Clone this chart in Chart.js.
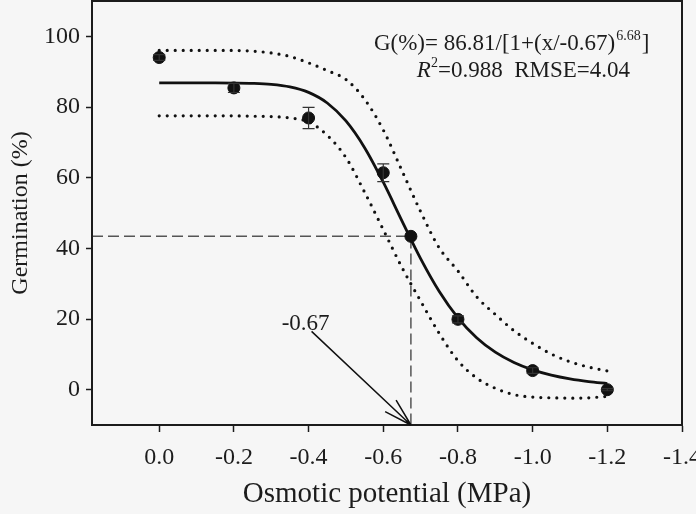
<!DOCTYPE html>
<html>
<head>
<meta charset="utf-8">
<script src="https://cdn.jsdelivr.net/npm/chart.js@4.4.0/dist/chart.umd.min.js"></script>
<style>
  html, body { margin: 0; padding: 0; background: #f6f6f6; }
  #wrap { width: 696px; height: 514px; }
</style>
</head>
<body>
<div id="wrap"><canvas id="myChart" width="696" height="514"></canvas></div>
<script>
// measured germination at each osmotic potential (MPa)
const osmotic = [0.0, -0.2, -0.4, -0.6, -0.8, -1.0, -1.2];
const germination = [94.0, 85.4, 76.9, 61.4, 19.9, 5.4, 0.0];
const germErr = [0.8, 1.3, 3.0, 2.5, 1.0, 0.8, 0.3];

// fitted curve and dotted confidence bands
const curveX = [0, -0.05, -0.1, -0.15, -0.2, -0.25, -0.3, -0.35, -0.4, -0.45, -0.5, -0.55, -0.6,
  -0.65, -0.7, -0.75, -0.8, -0.85, -0.9, -0.95, -1.0, -1.05, -1.1, -1.15, -1.2];
const curveFit = [86.81, 86.81, 86.81, 86.81, 86.78, 86.69, 86.41, 85.69, 84.13, 81.13, 76.05, 68.49, 58.71,
  47.80, 37.10, 27.79, 20.34, 14.70, 10.61, 7.68, 5.59, 4.11, 3.05, 2.29, 1.73];
const bandUpper = [96.0, 96.0, 96.0, 96.0, 96.0, 95.8, 95.3, 94.3, 92.5, 90.3, 87.8, 82.2, 73.5,
  62.0, 50.4, 40.1, 33.6, 26.3, 21.3, 16.7, 13.1, 10.1, 7.9, 6.4, 5.3];
const bandLower = [77.5, 77.5, 77.5, 77.5, 77.5, 77.4, 77.3, 76.9, 75.8, 72.0, 65.7, 55.9, 45.3,
  34.6, 25.1, 15.9, 8.2, 3.3, 0.4, -1.4, -2.1, -2.3, -2.4, -2.3, -1.9];

// half-maximum point
const x50 = -0.674;
const g50 = 43.4;

const xTicks = [0, -0.2, -0.4, -0.6, -0.8, -1.0, -1.2, -1.4];
const yTicks = [0, 20, 40, 60, 80, 100];
const xMin = -1.4, xMax = 0.18, yMin = -10, yMax = 110;

const serif = 'Liberation Serif';
const ink = '#1c1c1c';

const toXY = (xs, ys) => xs.map((x, i) => ({ x: x, y: ys[i] }));

// no extra room for end labels, the frame is placed by hand
const noPad = (s) => { s.paddingTop = 0; s.paddingBottom = 0; s.paddingLeft = 0; s.paddingRight = 0; };

const bgPlugin = {
  id: 'bg',
  beforeDraw(chart) {
    const c = chart.ctx;
    c.save();
    c.fillStyle = '#f6f6f6';
    c.fillRect(0, 0, chart.width, chart.height);
    c.restore();
  }
};

const extrasPlugin = {
  id: 'extras',
  afterDatasetsDraw(chart) {
    const c = chart.ctx;
    const xs = chart.scales.x, ys = chart.scales.y;
    const a = chart.chartArea;

    // error bars
    c.save();
    c.strokeStyle = '#333';
    c.lineWidth = 1.2;
    osmotic.forEach((v, i) => {
      const px = xs.getPixelForValue(v);
      const t = ys.getPixelForValue(germination[i] + germErr[i]);
      const b = ys.getPixelForValue(germination[i] - germErr[i]);
      c.beginPath();
      c.moveTo(px, t); c.lineTo(px, b);
      c.moveTo(px - 6, t); c.lineTo(px + 6, t);
      c.moveTo(px - 6, b); c.lineTo(px + 6, b);
      c.stroke();
    });
    c.restore();

    // frame
    c.save();
    c.strokeStyle = ink;
    c.lineWidth = 2;
    c.strokeRect(a.left, a.top, a.right - a.left, a.bottom - a.top);
    c.restore();

    // arrow pointing at x50
    c.save();
    const sx = xs.getPixelForValue(-0.408), sy = ys.getPixelForValue(16.5);
    const tx = xs.getPixelForValue(x50), ty = ys.getPixelForValue(yMin);
    const ang = Math.atan2(sy - ty, sx - tx);
    const len = 29, spread = 16 * Math.PI / 180;
    c.strokeStyle = '#111';
    c.lineWidth = 1.5;
    c.beginPath();
    c.moveTo(sx, sy); c.lineTo(tx, ty);
    c.moveTo(tx, ty); c.lineTo(tx + len * Math.cos(ang + spread), ty + len * Math.sin(ang + spread));
    c.moveTo(tx, ty); c.lineTo(tx + len * Math.cos(ang - spread), ty + len * Math.sin(ang - spread));
    c.stroke();
    c.fillStyle = ink;
    c.font = '23px "' + serif + '"';
    c.textBaseline = 'alphabetic';
    c.fillText('-0.67', xs.getPixelForValue(-0.328), ys.getPixelForValue(16.9));
    c.restore();

    // equation
    c.save();
    c.fillStyle = ink;
    c.textBaseline = 'alphabetic';
    let x = xs.getPixelForValue(-0.575);
    let y = ys.getPixelForValue(96.0);
    c.font = '23px "' + serif + '"';
    const p1 = 'G(%)= 86.81/[1+(x/-0.67)';
    c.fillText(p1, x, y);
    x += c.measureText(p1).width;
    c.font = '14px "' + serif + '"';
    c.fillText('6.68', x + 1, y - 10);
    x += c.measureText('6.68').width + 2;
    c.font = '23px "' + serif + '"';
    c.fillText(']', x, y);

    x = xs.getPixelForValue(-0.69);
    y = ys.getPixelForValue(88.4);
    c.font = 'italic 23px "' + serif + '"';
    c.fillText('R', x, y);
    x += c.measureText('R').width;
    c.font = '14px "' + serif + '"';
    c.fillText('2', x, y - 10);
    x += c.measureText('2').width;
    c.font = '23px "' + serif + '"';
    c.fillText('=0.988  RMSE=4.04', x, y);
    c.restore();
  }
};

const ctx = document.getElementById('myChart').getContext('2d');

new Chart(ctx, {
  type: 'scatter',
  data: {
    datasets: [
      {
        label: 'Germination',
        data: toXY(osmotic, germination),
        backgroundColor: '#111',
        borderColor: '#111',
        pointRadius: 6,
        order: 0
      },
      {
        label: 'x50',
        data: [{ x: x50, y: g50 }],
        backgroundColor: '#111',
        borderColor: '#111',
        pointRadius: 6,
        order: 0
      },
      {
        label: 'Fit',
        type: 'line',
        data: toXY(curveX, curveFit),
        borderColor: '#111',
        borderWidth: 2.8,
        pointRadius: 0,
        fill: false,
        cubicInterpolationMode: 'monotone',
        order: 2
      },
      {
        label: 'Upper',
        type: 'line',
        data: toXY(curveX, bandUpper),
        borderColor: '#111',
        borderWidth: 3.2,
        borderDash: [0, 8],
        borderCapStyle: 'round',
        pointRadius: 0,
        fill: false,
        cubicInterpolationMode: 'monotone',
        order: 3
      },
      {
        label: 'Lower',
        type: 'line',
        data: toXY(curveX, bandLower),
        borderColor: '#111',
        borderWidth: 3.2,
        borderDash: [0, 8],
        borderCapStyle: 'round',
        pointRadius: 0,
        fill: false,
        cubicInterpolationMode: 'monotone',
        order: 3
      },
      {
        label: 'Guide',
        type: 'line',
        data: [{ x: xMax, y: g50 }, { x: x50, y: g50 }, { x: x50, y: yMin }],
        borderColor: '#555',
        borderWidth: 1.5,
        borderDash: [11, 5],
        pointRadius: 0,
        fill: false,
        tension: 0,
        order: 4
      }
    ]
  },
  options: {
    responsive: false,
    animation: false,
    layout: { autoPadding: false, padding: { top: 1, right: 14, left: 0, bottom: 0 } },
    scales: {
      x: {
        type: 'linear',
        reverse: true,
        min: xMin,
        max: xMax,
        afterBuildTicks: (axis) => { axis.ticks = xTicks.map(v => ({ value: v })); },
        afterFit: (s) => { s.height = 89; noPad(s); },
        ticks: {
          callback: (v) => v.toFixed(1),
          font: { family: serif, size: 24 },
          color: ink,
          padding: 11,
          maxRotation: 0,
          autoSkip: false
        },
        grid: { drawOnChartArea: false, drawTicks: true, tickLength: 7, color: ink, tickWidth: 1.5 },
        border: { display: true, color: ink, width: 2 },
        title: {
          display: true,
          text: 'Osmotic potential (MPa)',
          font: { family: serif, size: 29 },
          color: ink,
          padding: { top: 8, bottom: 2 }
        }
      },
      y: {
        min: yMin,
        max: yMax,
        afterBuildTicks: (axis) => { axis.ticks = yTicks.map(v => ({ value: v })); },
        afterFit: (s) => { s.width = 92; noPad(s); },
        ticks: {
          font: { family: serif, size: 24 },
          color: ink,
          padding: 6
        },
        grid: { drawOnChartArea: false, drawTicks: true, tickLength: 6, color: ink, tickWidth: 1.5 },
        border: { display: true, color: ink, width: 2 },
        title: {
          display: true,
          text: 'Germination (%)',
          font: { family: serif, size: 24 },
          color: ink,
          padding: { top: 6, bottom: 4 }
        }
      }
    },
    plugins: {
      legend: { display: false },
      tooltip: { enabled: false }
    }
  },
  plugins: [bgPlugin, extrasPlugin]
});
</script>
</body>
</html>
